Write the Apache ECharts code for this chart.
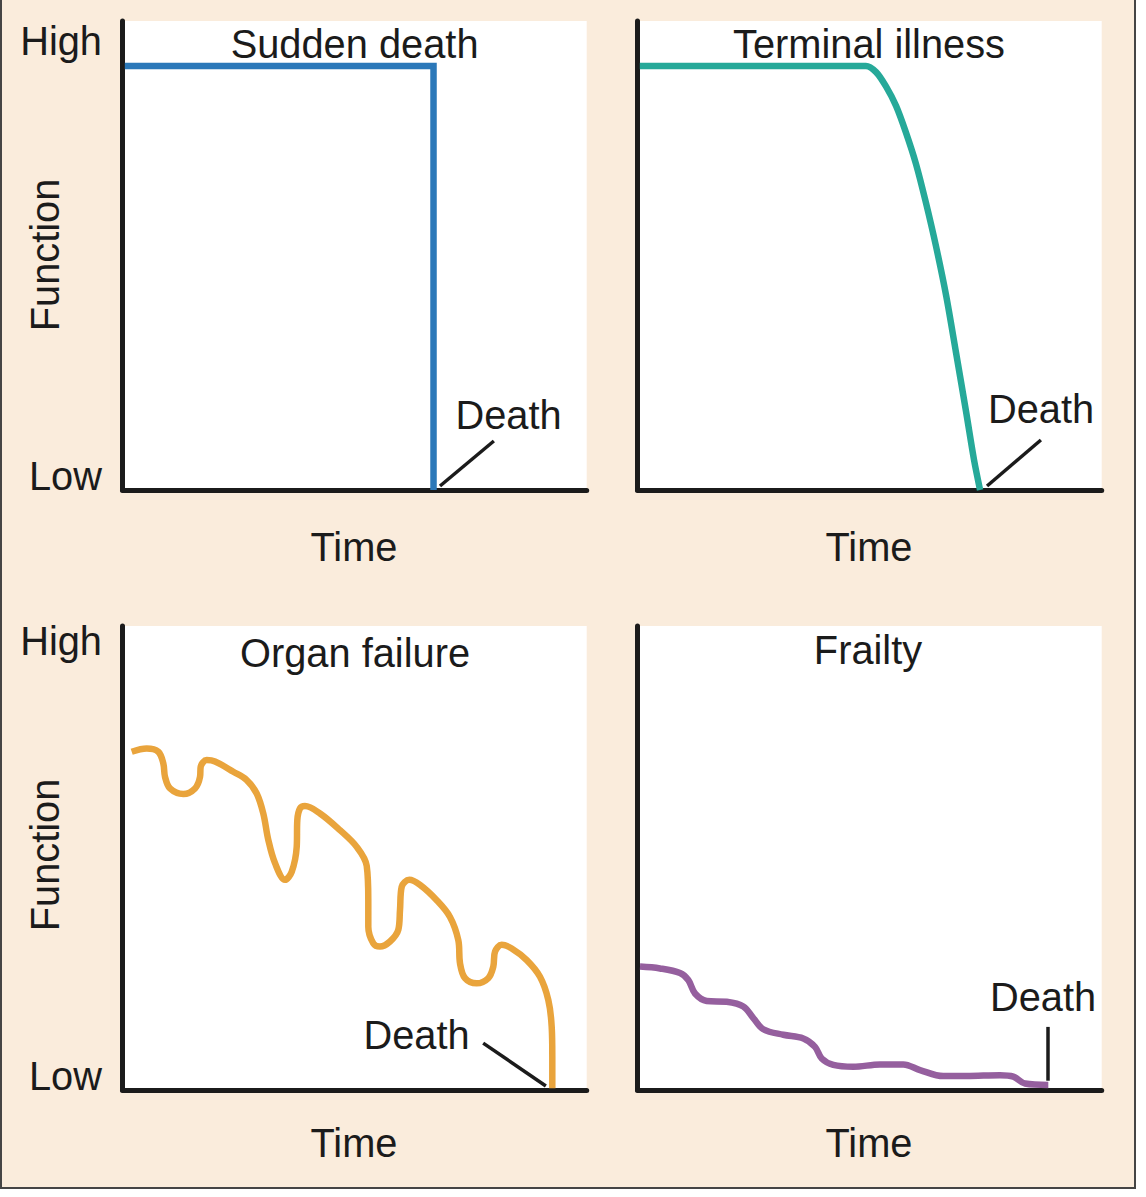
<!DOCTYPE html>
<html><head><meta charset="utf-8">
<script src="https://cdn.jsdelivr.net/npm/echarts@6/dist/echarts.min.js"></script>
<style>html,body{margin:0;padding:0;background:#fff}#c{width:1146px;height:1197px}</style>
</head><body><div id="c"></div>
<script>
// ---------- text ----------
const panelTitles = ['Sudden death', 'Terminal illness', 'Organ failure', 'Frailty'];
const highLabel = 'High';
const lowLabel = 'Low';
const xAxisName = 'Time';
const yAxisName = 'Function';
const deathLabel = 'Death';

// ---------- data (Time 0-100, Function 0-100) ----------
const suddenTime     = [0.5, 67.0, 67.0];
const suddenFunction = [90.4, 90.4, 0];

const terminalTime     = [0.5, 25, 49.2, 51.4, 53.5, 55.7, 57.8, 60.0, 62.1, 64.3, 66.5, 68.6, 70.8, 72.5, 73.8];
const terminalFunction = [90.4, 90.4, 90.4, 89.1, 86.1, 81.9, 76.3, 69.5, 61.4, 52.0, 41.4, 29.4, 16.6, 6.4, 0];

const organTime = [1.98, 5.21, 7.71, 8.79, 9.16, 10.23, 13.10, 15.62, 16.70, 16.85, 18.14, 19.93, 23.87, 26.76, 28.91,
  30.33, 31.41, 32.85, 35.01, 36.45, 37.53, 37.66, 38.24, 39.31, 42.55, 46.85, 50.45, 52.61, 52.95, 52.95,
  54.03, 55.47, 57.63, 59.41, 59.78, 60.15, 61.78, 64.09, 67.69, 70.55, 72.34, 72.71, 73.78, 76.30, 78.80,
  79.88, 80.25, 81.69, 83.84, 87.08, 89.94, 91.73, 92.46, 92.59, 92.59];
const organFunction = [72.9, 73.6, 72.9, 70.4, 67.5, 65.0, 63.8, 65.0, 67.5, 69.7, 71.1, 70.8, 68.6, 66.8, 63.9,
  59.6, 53.9, 48.9, 45.3, 47.0, 52.4, 58.2, 60.7, 61.2, 59.6, 56.0, 52.4, 48.3, 40.9, 35.2,
  31.6, 30.9, 32.0, 34.5, 38.8, 43.8, 45.3, 44.2, 40.9, 37.3, 32.3, 27.3, 24.1, 23.0, 24.1,
  26.6, 29.8, 31.3, 30.5, 28.0, 24.4, 19.4, 13.6, 7.2, 0.4];

const frailtyTime = [0.54, 4.85, 9.16, 10.94, 12.39, 14.91, 19.22, 22.79, 24.95, 27.10, 31.41, 35.72, 38.24, 39.68,
  42.18, 46.49, 52.24, 57.26, 60.86, 65.88, 70.92, 78.09, 80.96, 83.48, 88.50];
const frailtyFunction = [26.6, 26.2, 25.2, 23.7, 20.8, 19.2, 19.0, 18.0, 15.5, 13.1, 11.9, 11.1, 9.3, 6.8,
  5.4, 5.0, 5.5, 5.5, 4.3, 3.0, 3.0, 3.2, 2.9, 1.4, 1.1];

const colors = ['#2B78B9', '#26A999', '#E9A43C', '#955F9E'];

// ---------- layout ----------
const INK = '#1b1b1b';
const FONT = '"Liberation Sans", Arial, Helvetica, sans-serif';
const FS = 39.8;
const grids = [
  {left: 122.5, top: 21, width: 464.2, height: 469},
  {left: 637.5, top: 21, width: 464.2, height: 469},
  {left: 122.5, top: 626, width: 464.2, height: 464},
  {left: 637.5, top: 626, width: 464.2, height: 464}
];

const zip = (a, b) => a.map((v, i) => [v, b[i]]);
const seriesData = [
  zip(suddenTime, suddenFunction),
  zip(terminalTime, terminalFunction),
  zip(organTime, organFunction),
  zip(frailtyTime, frailtyFunction)
];

const pointers = [
  [[68.4, 0.85], [80.0, 10.45]],
  [[75.3, 0.85], [86.9, 10.66]],
  [[77.7, 10.1], [91.2, 0.86]],
  [[88.4, 13.6], [88.4, 2.0]]
];
const smoothing = [false, 0.3, 0.35, 0.35];
const widths = [6.5, 6.5, 6.5, 6.5];

function axisCommon() {
  return {
    type: 'value', min: 0, max: 100,
    axisLine: {show: true, onZero: false, lineStyle: {color: INK, width: 5}},
    axisTick: {show: false}, axisLabel: {show: false}, splitLine: {show: false}
  };
}

function txt(text, x, y, align, rot) {
  return {
    type: 'text', x: x, y: y, rotation: rot || 0, silent: true, z: 50,
    style: {text: text, x: 0, y: 0, fill: INK, fontSize: FS, fontFamily: FONT,
            align: align || 'center', verticalAlign: 'middle'}
  };
}

const graphics = [
  {type: 'rect', z: -100, silent: true,
   shape: {x: 1, y: -5, width: 1134, height: 1193},
   style: {fill: '#FAECDC', stroke: '#454545', lineWidth: 2}},
  // titles
  txt(panelTitles[0], 354.6, 43.5),
  txt(panelTitles[1], 869, 43.5),
  txt(panelTitles[2], 355, 653),
  txt(panelTitles[3], 868, 650),
  // time
  txt(xAxisName, 354, 546.5), txt(xAxisName, 869, 546.5),
  txt(xAxisName, 354, 1143), txt(xAxisName, 869, 1143),
  // high / low
  txt(highLabel, 102, 40.5, 'right'), txt(lowLabel, 102, 476, 'right'),
  txt(highLabel, 102, 640.5, 'right'), txt(lowLabel, 102, 1076, 'right'),
  // function
  txt(yAxisName, 44.5, 255, 'center', Math.PI / 2),
  txt(yAxisName, 44.5, 855, 'center', Math.PI / 2),
  // death
  txt(deathLabel, 508.5, 414.5), txt(deathLabel, 1041, 409),
  txt(deathLabel, 416.5, 1035), txt(deathLabel, 1043, 997)
];

const option = {
  animation: false,
  backgroundColor: '#ffffff',
  grid: grids.map(g => Object.assign({show: true, backgroundColor: '#ffffff', borderWidth: 0, containLabel: false}, g)),
  xAxis: grids.map((g, i) => Object.assign(axisCommon(), {gridIndex: i, position: 'bottom'})),
  yAxis: grids.map((g, i) => Object.assign(axisCommon(), {gridIndex: i, position: 'left'})),
  series: seriesData.map((d, i) => ({
    type: 'line', xAxisIndex: i, yAxisIndex: i, data: d,
    smooth: smoothing[i], showSymbol: false, symbol: 'none',
    lineStyle: {color: colors[i], width: widths[i], join: 'miter', cap: 'butt'},
    markLine: {
      silent: true, symbol: 'none', label: {show: false},
      lineStyle: {color: INK, width: 3.5, type: 'solid'},
      data: [[{coord: pointers[i][0]}, {coord: pointers[i][1]}]]
    }
  })),
  graphic: graphics
};

const chart = echarts.init(document.getElementById('c'), null, {renderer: 'svg'});
chart.setOption(option);
</script>
</body></html>
